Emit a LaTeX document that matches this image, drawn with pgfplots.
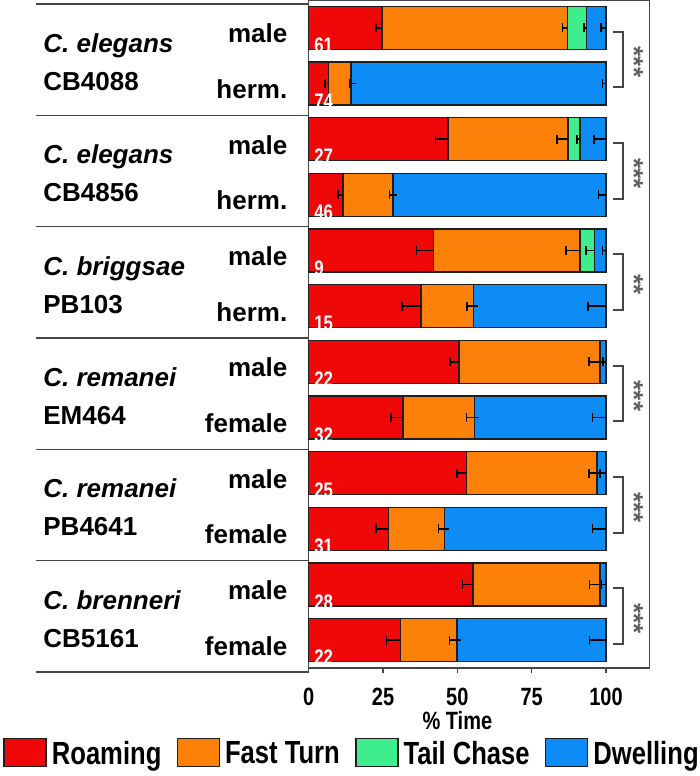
\documentclass[border=0pt]{standalone}
\usepackage{fontspec}
\setmainfont{Liberation Sans}
\newfontfamily\narrowfont[FakeStretch=0.8]{Liberation Sans}
\usepackage{pgfplots}
\pgfplotsset{compat=1.18}
\usepackage{pgfplotstable}

\definecolor{roam}{RGB}{240,8,8}
\definecolor{fast}{RGB}{253,128,8}
\definecolor{tail}{RGB}{62,238,140}
\definecolor{dwell}{RGB}{12,140,244}
\definecolor{edge}{RGB}{30,30,30}
\definecolor{frame}{RGB}{70,70,70}
\definecolor{star}{RGB}{95,95,95}

\newcommand\lab{\bfseries\fontsize{13}{15}\selectfont}
\newcommand\tck{\narrowfont\bfseries\fontsize{12.5}{14}\selectfont}
\newcommand\leg{\narrowfont\bfseries\fontsize{16}{18}\selectfont}
\newcommand\num{\narrowfont\bfseries\fontsize{10.5}{12}\selectfont}

% segment widths (% time) and their error, top bar = y 12
\pgfplotstableread{
y  R    Re   F    Fe   T    Te   D    De
12 24.6 1.9  62.4 1.7  6.5  0.9  6.5  1.6
11 6.7  1.2  7.6  0.6  0    0    85.7 1.2
10 46.9 4.3  40.4 3.7  3.9  0.9  8.8  4.0
9  11.5 1.7  16.8 1.1  0    0    71.7 2.6
8  42.0 5.8  49.2 4.6  5.0  3.0  3.8  1.2
7  37.8 6.4  17.6 2.1  0    0    44.6 6.1
6  50.6 3.0  47.3 3.6  0    0    2.1  1.0
5  31.7 4.1  24.0 2.7  0    0    44.3 4.6
4  53.0 3.1  43.9 2.6  0    0    3.1  2.0
3  26.8 4.1  18.9 2.0  0    0    54.3 4.6
2  55.2 3.4  42.8 3.6  0    0    2.0  1.5
1  30.8 4.7  19.1 2.6  0    0    50.1 5.6
}\behav

\pgfplotsset{
  boxlegend/.style={legend image code/.code={\draw[##1, line width=0.75pt] (0pt,-6pt) rectangle (21pt,8pt);}},
  seg/.style={fill=#1, draw=edge, line width=0.75pt, boxlegend,
    error bars/.cd, x dir=minus, x explicit,
    error bar style={line width=0.75pt, black},
    error mark options={rotate=90, mark size=2.2pt, line width=0.75pt, black}},
}

\begin{document}
\begin{tikzpicture}
\begin{axis}[
  scale only axis, width=170.5pt, height=334pt,
  xbar stacked, bar width=21.5pt,
  xmin=0, xmax=114.7, ymin=0.5, ymax=12.5,
  clip=false,
  axis line style={draw=frame, line width=0.75pt},
  xtick={0,25,50,75,100}, xtick pos=bottom, tick align=outside,
  major tick length=2.5pt,
  xtick style={draw=frame, line width=0.75pt},
  ytick={1,...,12}, ytick style={draw=none},
  yticklabels={female,male,female,male,female,male,herm.,male,herm.,male,herm.,male},
  /pgf/number format/assume math mode=true,
  xticklabel style={font=\tck, anchor=north, inner sep=0pt, yshift=-7.5pt},
  yticklabel style={font=\lab, anchor=base east, inner sep=0pt, xshift=-8pt, yshift=-7.5pt},
  xlabel={\% Time},
  xlabel style={font=\tck, at={(axis cs:50,0.5)}, anchor=north, inner sep=0pt, yshift=-21.5pt},
  legend columns=4,
  legend style={at={(axis cs:0,0.5)}, anchor=west, xshift=-152.85pt, yshift=-42.3pt,
    draw=none, fill=none, inner sep=0pt, font=\leg,
    nodes={inner sep=0pt},
    /tikz/every odd column/.append style={column sep=2.5pt},
    /tikz/every even column/.append style={column sep=7.6pt}},
]
\addplot[seg=roam]  table[x=R, y=y, x error=Re] {\behav};
\addplot[seg=fast]  table[x=F, y=y, x error=Fe] {\behav};
\addplot[seg=tail]  table[x=T, y=y, x error=Te] {\behav};
\addplot[seg=dwell] table[x=D, y=y, x error=De] {\behav};
\legend{Roaming, Fast Turn, Tail Chase, Dwelling}
\coordinate (o) at (axis cs:0,0.5);
\end{axis}

% annotations in reference pixel units, origin at the top left
\begin{scope}[shift={(o)}, xshift=-154.35pt, yshift=334pt, x=0.5pt, y=-0.5pt]
  \foreach \k in {0,...,6}
    \draw[frame, line width=0.75pt] (36,4+111.333*\k) -- (308,4+111.333*\k);
  \foreach \sp/\st/\p [count=\k from 0] in {elegans/CB4088/***, elegans/CB4856/***,
      briggsae/PB103/**, remanei/EM464/***, remanei/PB4641/***, brenneri/CB5161/***} {
    \node[anchor=base west, inner sep=0pt, font=\lab\itshape] at (43,52.5+111.333*\k) {C. \sp};
    \node[anchor=base west, inner sep=0pt, font=\lab] at (43,90.5+111.333*\k) {\st};
    \draw[frame, line width=1pt] (613,31.8+111.333*\k) -- (623,31.8+111.333*\k)
      -- (623,87.5+111.333*\k) -- (613,87.5+111.333*\k);
    \node[rotate=-90, inner sep=0pt, font=\lab, text=star] at (634,62+111.333*\k) {\p};
  }
  \foreach \n [count=\i from 0] in {61,74,27,46,9,15,22,32,25,31,28,22}
    \node[anchor=base west, inner sep=0pt, font=\num, text=white] at (314,52.5+55.667*\i) {\n};
  \pgfresetboundingbox
  \path (0,0) rectangle (700,776);
\end{scope}
\end{tikzpicture}
\end{document}
